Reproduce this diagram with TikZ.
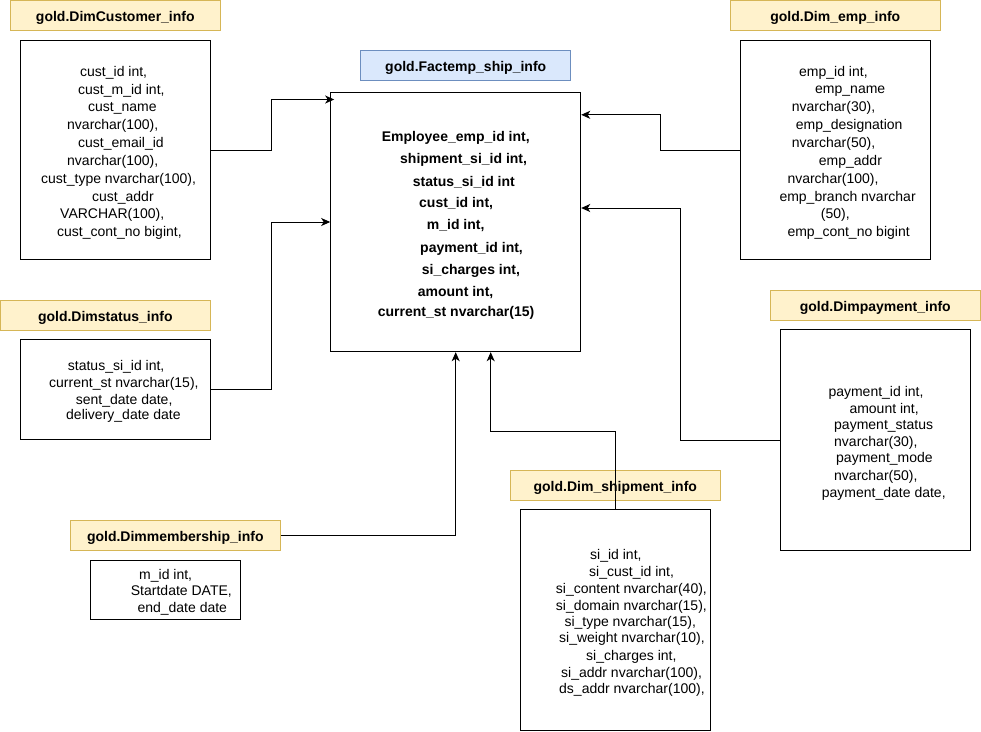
\documentclass[tikz,border=0pt]{standalone}
\usepackage{fontspec}
\setmainfont{Liberation Sans}
\usetikzlibrary{arrows.meta}

\definecolor{tagfill}{HTML}{FFF2CC}
\definecolor{tagline}{HTML}{D6B656}
\definecolor{factfill}{HTML}{DAE8FC}
\definecolor{factline}{HTML}{6C8EBF}

\tikzset{
  tabletag/.style={draw=tagline, fill=tagfill, line width=1pt, inner sep=0pt,
    minimum width=210pt, minimum height=30pt, text height=12.4pt, text depth=0pt,
    font=\bfseries\fontsize{14}{17}\selectfont},
  facttag/.style={tabletag, draw=factline, fill=factfill},
  tablebox/.style={draw=black, line width=1pt, inner sep=0pt},
  field/.style={anchor=base west, inner sep=0pt, font=\fontsize{14}{17}\selectfont},
  keyfield/.style={field, font=\bfseries\fontsize{14}{17}\selectfont},
  link/.style={draw=black, line width=1pt,
    -{Stealth[length=9pt, width=8pt, inset=2.5pt]}},
}

\begin{document}
\begin{tikzpicture}[x=1pt, y=-1pt]
\useasboundingbox (0,0) rectangle (981,731);

% ---------- table titles ----------
\node[tabletag] (custtag)   at (115.3,15.5)  {gold.DimCustomer\_info};
\node[facttag]  (facttag)   at (465.7,65.2)  {gold.Factemp\_ship\_info};
\node[tabletag] (emptag)    at (835.3,15.5)  {gold.Dim\_emp\_info};
\node[tabletag] (stattag)   at (105.3,315)   {gold.Dimstatus\_info};
\node[tabletag] (paytag)    at (875.3,305)   {gold.Dimpayment\_info};
\node[tabletag] (shiptag)   at (615.3,485)   {gold.Dim\_shipment\_info};
\node[tabletag] (memtag)    at (175.3,535.3) {gold.Dimmembership\_info};

% ---------- table bodies ----------
\node[tablebox, minimum width=190pt, minimum height=219.3pt] (cust) at (115.7,150.3) {};
\node[tablebox, minimum width=250pt, minimum height=259.4pt] (fact) at (455.7,222)   {};
\node[tablebox, minimum width=190pt, minimum height=219.3pt] (emp)  at (835.7,150.3) {};
\node[tablebox, minimum width=190pt, minimum height=99.7pt]  (stat) at (115.7,389.2) {};
\node[tablebox, minimum width=190pt, minimum height=220.7pt] (pay)  at (875.7,440.3) {};
\node[tablebox, minimum width=190pt, minimum height=220.7pt] (ship) at (615.7,620.3) {};
\node[tablebox, minimum width=150pt, minimum height=59.3pt]  (mem)  at (165.7,590.3) {};

% ---------- columns ----------
\foreach \x/\y/\t [count=\i] in {
  80/72/{cust\_id int,},
  78/89.5/{cust\_m\_id int,},
  88/107/{cust\_name},
  67/125/{nvarchar(100),},
  78/143/{cust\_email\_id},
  67/160.5/{nvarchar(100),},
  41/178.5/{cust\_type nvarchar(100),},
  92/196.5/{cust\_addr},
  60/214/{VARCHAR(100),},
  57/232/{cust\_cont\_no bigint,}}
  \node[field] (cust-f\i) at (\x,\y+4.5) {\t};

\foreach \x/\y/\t [count=\i] in {
  381.7/136.7/{Employee\_emp\_id int,},
  400/158.5/{shipment\_si\_id int,},
  412.7/181.5/{status\_si\_id int},
  419/202.7/{cust\_id int,},
  426.7/225/{m\_id int,},
  420/248/{payment\_id int,},
  421.7/270/{si\_charges int,},
  417.7/291.7/{amount int,},
  377.7/311.7/{current\_st nvarchar(15)}}
  \node[keyfield] (fact-f\i) at (\x,\y+4.5) {\t};

\foreach \x/\y/\t [count=\i] in {
  799/71.7/{emp\_id int,},
  815/89.3/{emp\_name},
  791.7/107.3/{nvarchar(30),},
  795.7/125/{emp\_designation},
  791.7/142.7/{nvarchar(50),},
  818.7/161.2/{emp\_addr},
  787.3/179.3/{nvarchar(100),},
  779.3/196.7/{emp\_branch nvarchar},
  820.7/214.3/{(50),},
  787.3/232.3/{emp\_cont\_no bigint}}
  \node[field] (emp-f\i) at (\x,\y+4.5) {\t};

\foreach \x/\y/\t [count=\i] in {
  67.7/365.7/{status\_si\_id int,},
  49/383.3/{current\_st nvarchar(15),},
  75.7/399.5/{sent\_date date,},
  66/414.8/{delivery\_date date}}
  \node[field] (stat-f\i) at (\x,\y+4.5) {\t};

\foreach \x/\y/\t [count=\i] in {
  828.3/392.3/{payment\_id int,},
  849.3/409/{amount int,},
  834/424.8/{payment\_status},
  834/441.7/{nvarchar(30),},
  836/458.3/{payment\_mode},
  834/475.7/{nvarchar(50),},
  821.7/493.3/{payment\_date date,}}
  \node[field] (pay-f\i) at (\x,\y+4.5) {\t};

\foreach \x/\y/\t [count=\i] in {
  590/555/{si\_id int,},
  589/572.3/{si\_cust\_id int,},
  555.7/589/{si\_content nvarchar(40),},
  555.7/605.5/{si\_domain nvarchar(15),},
  564.3/621.7/{si\_type nvarchar(15),},
  559/638.3/{si\_weight nvarchar(10),},
  586/655.7/{si\_charges int,},
  561/672.7/{si\_addr nvarchar(100),},
  559/689/{ds\_addr nvarchar(100),}}
  \node[field] (ship-f\i) at (\x,\y+4.5) {\t};

\foreach \x/\y/\t [count=\i] in {
  139/575/{m\_id int,},
  130.7/591/{Startdate DATE,},
  137.3/608.3/{end\_date date}}
  \node[field] (mem-f\i) at (\x,\y+4.5) {\t};

% ---------- relationships into the fact table ----------
\draw[link] (cust.east) -- ++(60,0) |- ([shift={(4pt,-7.7pt)}]fact.north west);
\draw[link] (stat.east) -- ++(60,0) |- (fact.west);
\draw[link] (emp.west)  -- ++(-80,0) |- ([yshift=-23pt]fact.north east);
\draw[link] (pay.west)  -- ++(-100,0) |- ([yshift=14pt]fact.east);
\draw[link] (memtag.east) -| (fact.south);
\draw[link] (ship.north) -- ++(0,-78) -| ([xshift=35pt]fact.south);

\end{tikzpicture}
\end{document}
